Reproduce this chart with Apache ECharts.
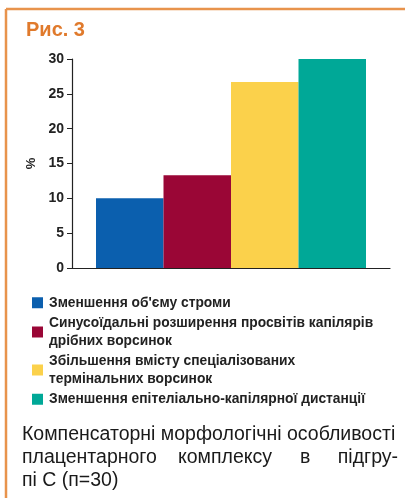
<!DOCTYPE html>
<html>
<head>
<meta charset="utf-8">
<script src="https://cdn.jsdelivr.net/npm/echarts@6/dist/echarts.min.js"></script>
<style>
  html, body { margin: 0; padding: 0; background: #fff; }
  #chart { width: 405px; height: 498px; }
</style>
</head>
<body>
<div id="chart"></div>
<script>
// data
const seriesNames = [
  "Зменшення об'єму строми",
  "Синусоїдальні розширення просвітів капілярів\nдрібних ворсинок",
  "Збільшення вмісту спеціалізованих\nтермінальних ворсинок",
  "Зменшення епітеліально-капілярної дистанції"
];
const seriesValues = [10, 13.3, 26.7, 30];
const seriesColors = ["#0b5fae", "#9a0636", "#fbd14b", "#00a897"];
const yTicks = [0, 5, 10, 15, 20, 25, 30];

const chart = echarts.init(document.getElementById("chart"));
const font = "'Liberation Sans', sans-serif";

// caption, line 2 is justified in the original so words are spread out
const captionStyle = { fill: "#1a1a1a", fontSize: 19.5, fontFamily: font };
const caption = [
  { text: "Компенсаторні морфологічні особливості", x: 22, y: 435, align: "left" },
  { text: "плацентарного", x: 22, y: 458, align: "left" },
  { text: "комплексу", x: 178, y: 458, align: "left" },
  { text: "в", x: 300, y: 458, align: "left" },
  { text: "підгру-", x: 398, y: 458, align: "right" },
  { text: "пі С (п=30)", x: 22, y: 481, align: "left" }
];

const option = {
  animation: false,
  textStyle: { fontFamily: font },
  title: {
    text: "Рис. 3",
    left: 21,
    top: 15,
    textStyle: { color: "#e07a2c", fontSize: 20, fontWeight: "bold", fontFamily: font }
  },
  grid: { left: 72, right: 15, top: 59, bottom: 230 },
  xAxis: {
    type: "category",
    data: [""],
    axisLine: { lineStyle: { color: "#222", width: 1.2 } },
    axisTick: { show: false },
    axisLabel: { show: false }
  },
  yAxis: {
    type: "value",
    min: yTicks[0],
    max: yTicks[yTicks.length - 1],
    interval: 5,
    name: "%",
    nameLocation: "middle",
    nameRotate: 90,
    nameGap: 29,
    nameTextStyle: { color: "#222", fontSize: 13, fontWeight: "bold" },
    axisLine: { show: true, lineStyle: { color: "#222", width: 1.2 } },
    axisTick: { show: true, length: 5, lineStyle: { color: "#222" } },
    axisLabel: { color: "#222", fontSize: 14, fontWeight: "bold", margin: 8 },
    splitLine: { show: false }
  },
  legend: {
    orient: "vertical",
    left: 27,
    top: 289,
    icon: "rect",
    itemWidth: 11,
    itemHeight: 11,
    itemGap: 3,
    textStyle: { color: "#222", fontSize: 13.8, fontWeight: "bold", lineHeight: 17.5, padding: [0, 0, 0, 1] },
    data: seriesNames
  },
  series: seriesNames.map((name, i) => ({
    name: name,
    type: "bar",
    data: [seriesValues[i]],
    barWidth: 67.5,
    barGap: "0%",
    itemStyle: { color: seriesColors[i] }
  })),
  graphic: [
    // orange frame (top and left edges)
    { type: "line", shape: { x1: 6, y1: 9, x2: 405, y2: 9 }, style: { stroke: "#e8934c", lineWidth: 2.5 } },
    { type: "line", shape: { x1: 6, y1: 9, x2: 6, y2: 498 }, style: { stroke: "#e8934c", lineWidth: 2.5 } }
  ].concat(caption.map(c => ({
    type: "text",
    x: c.x,
    y: c.y,
    style: Object.assign({ text: c.text, align: c.align, verticalAlign: "middle" }, captionStyle)
  })))
};

chart.setOption(option);
window.addEventListener("resize", () => chart.resize());
</script>
</body>
</html>
